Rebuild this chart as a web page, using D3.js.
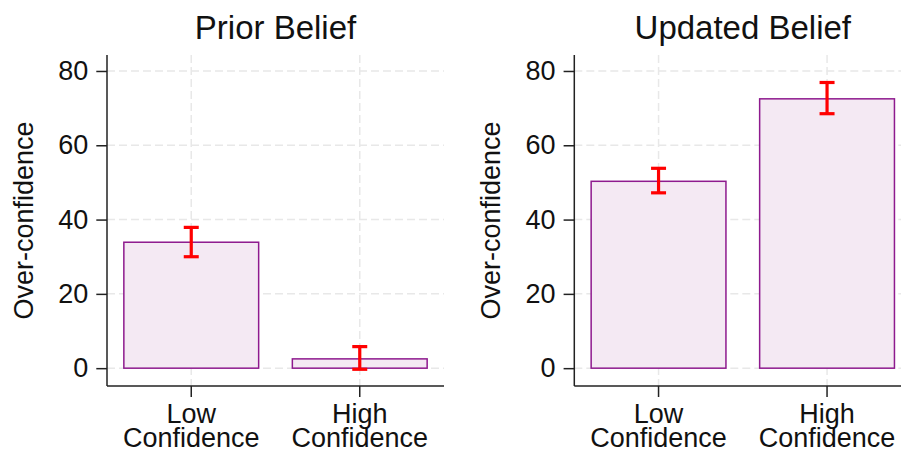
<html lang='eng'>
	<head>
		<title>Over-confidence</title>
		<script src="https://d3js.org/d3.v7.min.js" charset="utf-8"></script>
		<style type="text/css">
			body{
				margin: 0;
				background: white;
				font-family: "Liberation Sans", Arial, sans-serif;
			}
			.grid line{
				stroke: #e8e8e8;
				stroke-width: 1.5;
				stroke-dasharray: 8,4;
			}
			.axis path, .axis line{
				stroke: #222;
				stroke-width: 1.5;
			}
			.axis text{
				font-size: 27px;
				fill: #111;
			}
		</style>
	</head>
	<body>
		<div class="main"></div>
		<script>
			// data
			var categories = ["Low Confidence", "High Confidence"]
			var panelTitles = ["Prior Belief", "Updated Belief"]
			var priorMean = [33.9, 2.5]
			var priorLow = [30.0, -0.3]
			var priorHigh = [37.9, 5.8]
			var updatedMean = [50.3, 72.5]
			var updatedLow = [47.2, 68.5]
			var updatedHigh = [53.8, 76.9]
			var yTicks = [0, 20, 40, 60, 80]

			var width = 901
			var height = 449

			var svg = d3.select(".main")
				.append("svg")
				.attr("width", width)
				.attr("height", height)

			var panels = [
				{title: panelTitles[0], mean: priorMean, lo: priorLow, hi: priorHigh, left: 107},
				{title: panelTitles[1], mean: updatedMean, lo: updatedLow, hi: updatedHigh, left: 574.3}
			]

			var plotW = 337
			var plotTop = 55
			var plotBottom = 386

			var y = d3.scaleLinear()
				.domain([-4.8, 84.3])
				.range([plotBottom, plotTop])

			panels.forEach(function(p){
				var x = d3.scaleBand()
					.domain(categories)
					.range([p.left, p.left + plotW])
					.paddingInner(0.2)
					.paddingOuter(0.1)

				var g = svg.append("g")

				// grid
				var grid = g.append("g").attr("class", "grid")
				grid.selectAll(".hg")
					.data(yTicks)
					.enter()
					.append("line")
					.attr("x1", p.left)
					.attr("x2", p.left + plotW)
					.attr("y1", function(d){ return y(d) })
					.attr("y2", function(d){ return y(d) })
				grid.selectAll(".vg")
					.data(categories)
					.enter()
					.append("line")
					.attr("x1", function(d){ return x(d) + x.bandwidth()/2 })
					.attr("x2", function(d){ return x(d) + x.bandwidth()/2 })
					.attr("y1", plotTop)
					.attr("y2", plotBottom)

				// bars
				g.selectAll("rect")
					.data(p.mean)
					.enter()
					.append("rect")
					.attr("x", function(d, i){ return x(categories[i]) })
					.attr("width", x.bandwidth())
					.attr("y", function(d){ return y(d) })
					.attr("height", function(d){ return y(0) - y(d) })
					.attr("fill", "#f4e9f3")
					.attr("stroke", "#8e1a8e")
					.attr("stroke-width", 1.5)

				// error bars
				var eb = g.selectAll(".err")
					.data(p.mean)
					.enter()
					.append("g")
					.attr("class", "err")
					.attr("stroke", "#ff0000")
					.attr("stroke-width", 3.2)
				eb.append("line")
					.attr("x1", function(d, i){ return x(categories[i]) + x.bandwidth()/2 })
					.attr("x2", function(d, i){ return x(categories[i]) + x.bandwidth()/2 })
					.attr("y1", function(d, i){ return y(p.lo[i]) })
					.attr("y2", function(d, i){ return y(p.hi[i]) })
				eb.append("line")
					.attr("x1", function(d, i){ return x(categories[i]) + x.bandwidth()/2 - 7.5 })
					.attr("x2", function(d, i){ return x(categories[i]) + x.bandwidth()/2 + 7.5 })
					.attr("y1", function(d, i){ return y(p.lo[i]) })
					.attr("y2", function(d, i){ return y(p.lo[i]) })
				eb.append("line")
					.attr("x1", function(d, i){ return x(categories[i]) + x.bandwidth()/2 - 7.5 })
					.attr("x2", function(d, i){ return x(categories[i]) + x.bandwidth()/2 + 7.5 })
					.attr("y1", function(d, i){ return y(p.hi[i]) })
					.attr("y2", function(d, i){ return y(p.hi[i]) })

				// axes
				var yAxis = g.append("g")
					.attr("class", "axis")
					.attr("transform", "translate(" + p.left + ",0)")
					.call(d3.axisLeft(y).tickValues(yTicks).tickSize(10.7).tickPadding(8).tickSizeOuter(0))
				yAxis.select(".domain").attr("d", "M0," + plotTop + "V" + plotBottom)

				var xAxis = g.append("g")
					.attr("class", "axis")
					.attr("transform", "translate(0," + plotBottom + ")")
					.call(d3.axisBottom(x).tickSize(11).tickSizeOuter(0))
				xAxis.select(".domain").attr("d", "M" + p.left + ",0H" + (p.left + plotW))
				xAxis.selectAll(".tick text").remove()
				xAxis.selectAll(".tick")
					.append("text")
					.attr("text-anchor", "middle")
					.selectAll("tspan")
					.data(function(d){ return d.split(" ") })
					.enter()
					.append("tspan")
					.attr("x", 0)
					.attr("y", function(d, i){ return 37 + i * 23.5 })
					.text(function(d){ return d })

				// titles
				g.append("text")
					.attr("x", p.left + plotW / 2)
					.attr("y", 39)
					.attr("text-anchor", "middle")
					.style("font-size", "33px")
					.style("fill", "#111")
					.text(p.title)

				g.append("text")
					.attr("transform", "translate(" + (p.left - 74) + "," + ((plotTop + plotBottom) / 2) + ") rotate(-90)")
					.attr("text-anchor", "middle")
					.style("font-size", "27px")
					.style("fill", "#111")
					.text("Over-confidence")
			})
		</script>
	</body>
</html>
